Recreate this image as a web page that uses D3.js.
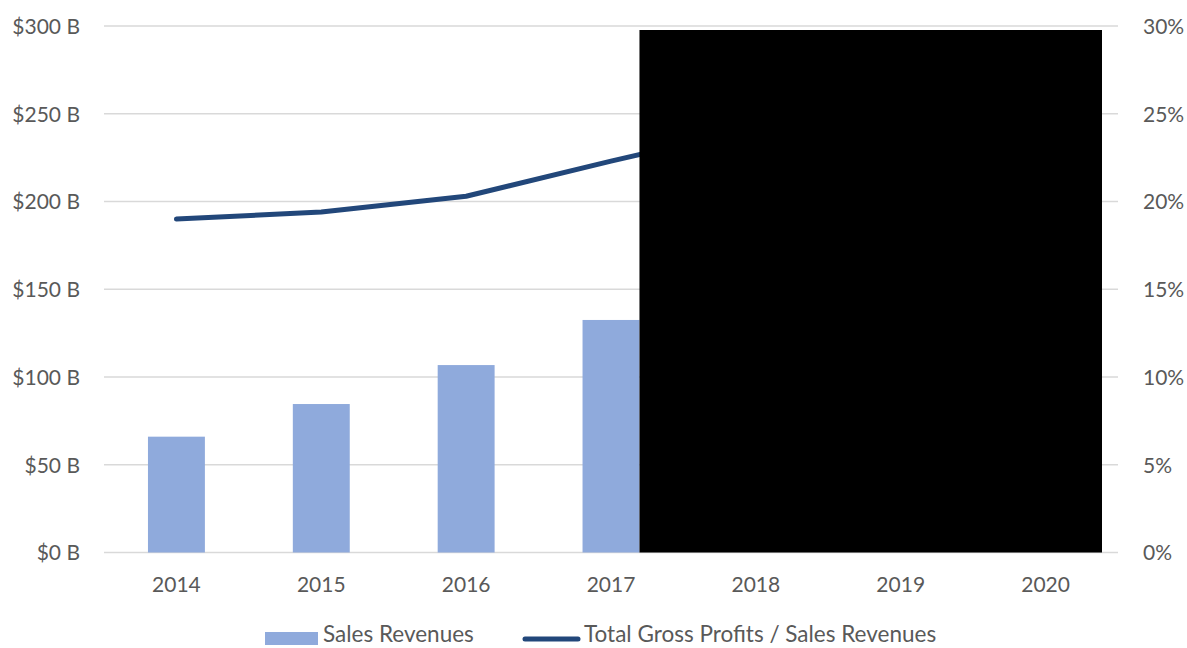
<!DOCTYPE html>
<html>
<head>
<meta charset="utf-8">
<script src="https://cdn.jsdelivr.net/npm/d3@7/dist/d3.min.js"></script>
<style>
  html, body { margin: 0; padding: 0; background: #ffffff; }
  svg { display: block; }
  text { font-family: Lato, "Open Sans", sans-serif; fill: #595959; }
</style>
</head>
<body>
<svg id="chart" width="1187" height="648"></svg>
<script>
// Years on the category axis
const years = ["2014", "2015", "2016", "2017", "2018", "2019", "2020"];
// Sales revenues in billions of dollars (later years not shown)
const salesRevenues = [66.0, 84.6, 106.8, 132.5];
// Total gross profits as a share of sales revenues
const grossMargin = [0.190, 0.194, 0.203, 0.223, 0.242];
// Axis tick values
const leftTicks = [0, 50, 100, 150, 200, 250, 300];
const rightTicks = [0, 0.05, 0.10, 0.15, 0.20, 0.25, 0.30];

const svg = d3.select("#chart");
const plot = { left: 104, right: 1118, top: 26, bottom: 552.5 };

const x = d3.scaleBand().domain(years).range([plot.left, plot.right]).padding(0);
const barW = x.bandwidth() * 0.393;
const cx = d => x(d) + x.bandwidth() / 2;

const y = d3.scaleLinear().domain([0, 300]).range([plot.bottom, plot.top]);
const y2 = d3.scaleLinear().domain([0, 0.30]).range([plot.bottom, plot.top]);

const fontSize = 21;
const legendFont = 22.5;

// Horizontal gridlines
svg.append("g")
  .selectAll("line")
  .data(leftTicks)
  .join("line")
  .attr("x1", plot.left).attr("x2", plot.right)
  .attr("y1", d => y(d)).attr("y2", d => y(d))
  .attr("stroke", "#d9d9d9").attr("stroke-width", 1.3);

// Left axis: dollars
const leftAxis = d3.axisLeft(y)
  .tickValues(leftTicks)
  .tickSize(0)
  .tickPadding(0)
  .tickFormat(d => "$" + d + " B");
const gl = svg.append("g").attr("transform", "translate(80,0)").call(leftAxis);
gl.select(".domain").remove();
gl.selectAll("text").attr("font-size", fontSize).attr("dy", "0.35em").style("fill", "#595959");

// Right axis: percentage
const rightAxis = d3.axisRight(y2)
  .tickValues(rightTicks)
  .tickSize(0)
  .tickPadding(0)
  .tickFormat(d3.format(".0%"));
const gr = svg.append("g").attr("transform", "translate(1143,0)").call(rightAxis);
gr.select(".domain").remove();
gr.selectAll("text").attr("font-size", fontSize).attr("dy", "0.35em").style("fill", "#595959");

// Bottom axis: years
const bottomAxis = d3.axisBottom(x).tickSize(0).tickPadding(0);
const gb = svg.append("g").attr("transform", `translate(0,${plot.bottom})`).call(bottomAxis);
gb.select(".domain").remove();
gb.selectAll("text").attr("font-size", fontSize).attr("y", 32).attr("dy", "0.35em").style("fill", "#595959");

// Revenue bars
svg.append("g")
  .selectAll("rect")
  .data(salesRevenues)
  .join("rect")
  .attr("x", (d, i) => cx(years[i]) - barW / 2)
  .attr("width", barW)
  .attr("y", d => y(d))
  .attr("height", d => y(0) - y(d))
  .attr("fill", "#8faadc");

// Gross margin line
const line = d3.line()
  .x((d, i) => cx(years[i]))
  .y(d => y2(d));
svg.append("path")
  .datum(grossMargin)
  .attr("d", line)
  .attr("fill", "none")
  .attr("stroke", "#22477a")
  .attr("stroke-width", 5)
  .attr("stroke-linecap", "round")
  .attr("stroke-linejoin", "round");

// Redacted block over the later years
const maskLeft = cx("2017") + barW / 2;
svg.append("rect")
  .attr("x", maskLeft)
  .attr("y", y(300) + 4)
  .attr("width", plot.right - 16 - maskLeft)
  .attr("height", y(0) - y(300) - 4)
  .attr("fill", "#000000");

// Legend
const legend = svg.append("g").attr("transform", "translate(0,634)");
legend.append("rect")
  .attr("x", 265).attr("y", -2).attr("width", 53).attr("height", 13)
  .attr("fill", "#8faadc");
legend.append("text")
  .attr("x", 323).attr("y", 0).attr("dy", "0.35em")
  .attr("font-size", legendFont)
  .text("Sales Revenues");
legend.append("line")
  .attr("x1", 525).attr("x2", 578).attr("y1", 5).attr("y2", 5)
  .attr("stroke", "#22477a").attr("stroke-width", 5)
  .attr("stroke-linecap", "round");
legend.append("text")
  .attr("x", 584).attr("y", 0).attr("dy", "0.35em")
  .attr("font-size", legendFont)
  .text("Total Gross Profits / Sales Revenues");
</script>
</body>
</html>
